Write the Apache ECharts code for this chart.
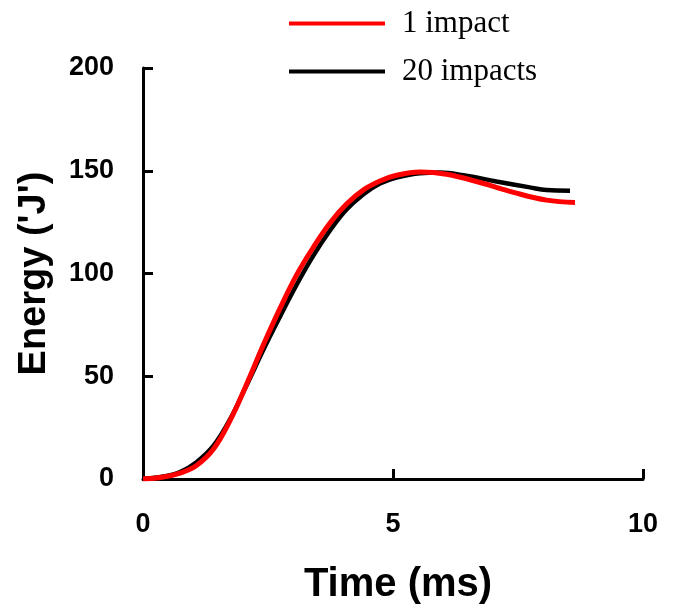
<!DOCTYPE html>
<html>
<head>
<meta charset="utf-8">
<script src="https://cdn.jsdelivr.net/npm/echarts@6/dist/echarts.min.js"></script>
<style>
  html, body { margin: 0; padding: 0; background: #fff; }
  #chart { width: 675px; height: 610px; }
</style>
</head>
<body>
<div id="chart"></div>
<script>
// Absorbed energy over time, single impact vs. after 20 impacts
const seriesNames = ['1 impact', '20 impacts'];

const timeOne = [0, 0.41, 0.74, 1.07, 1.41, 1.74, 2.07, 2.41, 2.74, 3.07, 3.41, 3.74, 4.07, 4.41, 4.74, 5.07, 5.54, 6.07, 6.74, 7.41, 8.07, 8.64];
const energyOne = [0, 1, 2.9, 6.6, 14.6, 28.4, 46, 65.4, 83, 99.2, 112.9, 124.6, 133.8, 140.7, 145, 147.8, 149.4, 148.3, 144.3, 139.5, 135.7, 134.6];

const timeTwenty = [0, 0.41, 0.74, 1.07, 1.41, 1.74, 2.07, 2.41, 2.74, 3.07, 3.41, 3.74, 4.07, 4.41, 4.74, 5.07, 5.54, 5.94, 6.41, 7.07, 7.74, 8.07, 8.54];
const energyTwenty = [0, 1.2, 3.4, 8.2, 16.2, 29, 45.5, 63, 79, 94.4, 108.8, 120.9, 131.1, 138.6, 143.8, 146.7, 148.8, 149.1, 147.8, 144.8, 141.9, 140.6, 140.3];

const xTicks = [0, 5, 10];
const yTicks = [0, 50, 100, 150, 200];

const zip = (xs, ys) => xs.map((x, i) => [x, ys[i]]);

const axisFont = { fontFamily: 'Liberation Sans, Arial, sans-serif', fontWeight: 'bold', color: '#000' };

const chart = echarts.init(document.getElementById('chart'), null, { renderer: 'canvas' });
chart.setOption({
  animation: false,
  backgroundColor: '#fff',
  grid: { left: 143, top: 68, right: 32, bottom: 128, containLabel: false },
  legend: {
    data: seriesNames,
    orient: 'vertical',
    left: 289,
    top: 8,
    padding: 0,
    icon: 'rect',
    itemWidth: 96,
    itemHeight: 4,
    itemGap: 17,
    textStyle: {
      fontFamily: 'Liberation Serif, Times New Roman, serif',
      fontSize: 31,
      lineHeight: 31,
      color: '#000',
      padding: [0, 0, 0, 12]
    }
  },
  xAxis: {
    type: 'value',
    min: xTicks[0],
    max: xTicks[xTicks.length - 1],
    interval: xTicks[1] - xTicks[0],
    name: 'Time (ms)',
    nameLocation: 'middle',
    nameGap: 86,
    nameTextStyle: Object.assign({ fontSize: 40, padding: [0, 0, 0, 10] }, axisFont),
    axisLine: { lineStyle: { color: '#000', width: 3 } },
    axisTick: { inside: true, length: 10, lineStyle: { color: '#000', width: 3 } },
    axisLabel: Object.assign({ fontSize: 27, margin: 32 }, axisFont),
    splitLine: { show: false }
  },
  yAxis: {
    type: 'value',
    min: yTicks[0],
    max: yTicks[yTicks.length - 1],
    interval: yTicks[1] - yTicks[0],
    name: "Energy ('J')",
    nameLocation: 'middle',
    nameGap: 89,
    nameTextStyle: Object.assign({ fontSize: 38 }, axisFont),
    axisLine: { show: true, lineStyle: { color: '#000', width: 3 } },
    axisTick: { show: true, inside: true, length: 10, lineStyle: { color: '#000', width: 3 } },
    axisLabel: Object.assign({ fontSize: 27, margin: 29 }, axisFont),
    splitLine: { show: false }
  },
  series: [
    {
      name: seriesNames[1],
      type: 'line',
      data: zip(timeTwenty, energyTwenty),
      smooth: 0.4,
      symbol: 'none',
      lineStyle: { color: '#000', width: 4.5 },
      itemStyle: { color: '#000' }
    },
    {
      name: seriesNames[0],
      type: 'line',
      data: zip(timeOne, energyOne),
      smooth: 0.4,
      symbol: 'none',
      lineStyle: { color: '#ff0000', width: 5 },
      itemStyle: { color: '#ff0000' }
    }
  ]
});
</script>
</body>
</html>
